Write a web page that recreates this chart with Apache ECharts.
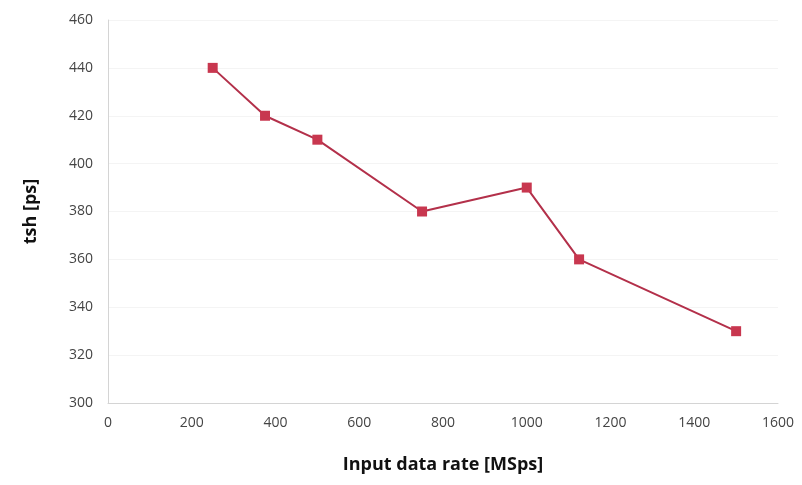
<!DOCTYPE html>
<html>
<head>
<meta charset="utf-8">
<script src="https://cdn.jsdelivr.net/npm/echarts@6/dist/echarts.min.js"></script>
<style>html,body{margin:0;padding:0;background:#fff}#c{width:802px;height:485px}</style>
</head>
<body>
<div id="c"></div>
<script>
const xValues = [250, 375, 500, 750, 1000, 1125, 1500];
const yValues = [440, 420, 410, 380, 390, 360, 330];
const xTitle = 'Input data rate [MSps]';
const yTitle = 'tsh [ps]';

const chart = echarts.init(document.getElementById('c'), null, {renderer: 'canvas'});
const font = '"Open Sans", Lato, sans-serif';
chart.setOption({
  backgroundColor: '#ffffff',
  animation: false,
  grid: {left: 108, right: 24, top: 20, bottom: 82, containLabel: false},
  xAxis: {
    type: 'value', min: 0, max: 1600, interval: 200,
    name: xTitle, nameLocation: 'middle', nameGap: 53,
    nameTextStyle: {fontFamily: font, fontSize: 18, fontWeight: 'bold', color: '#111111'},
    axisLine: {show: true, lineStyle: {color: '#d4d4d4', width: 1}},
    axisTick: {show: false},
    axisLabel: {fontFamily: font, fontSize: 14, color: '#444444', margin: 13, formatter: v => String(v)},
    splitLine: {show: false}
  },
  yAxis: {
    type: 'value', min: 300, max: 460, interval: 20,
    name: yTitle, nameLocation: 'middle', nameGap: 68, nameRotate: 90,
    nameTextStyle: {fontFamily: font, fontSize: 18, fontWeight: 'bold', color: '#111111'},
    axisLine: {show: true, lineStyle: {color: '#d4d4d4', width: 1}},
    axisTick: {show: false},
    axisLabel: {fontFamily: font, fontSize: 14, color: '#444444', margin: 15, formatter: v => String(v)},
    splitLine: {show: true, lineStyle: {color: '#f4f4f4', width: 1}}
  },
  series: [{
    type: 'line',
    data: xValues.map((x, i) => [x, yValues[i]]),
    symbol: 'rect', symbolSize: 10,
    itemStyle: {color: '#c8374f'},
    lineStyle: {color: '#b3304a', width: 2}
  }]
});
</script>
</body>
</html>
